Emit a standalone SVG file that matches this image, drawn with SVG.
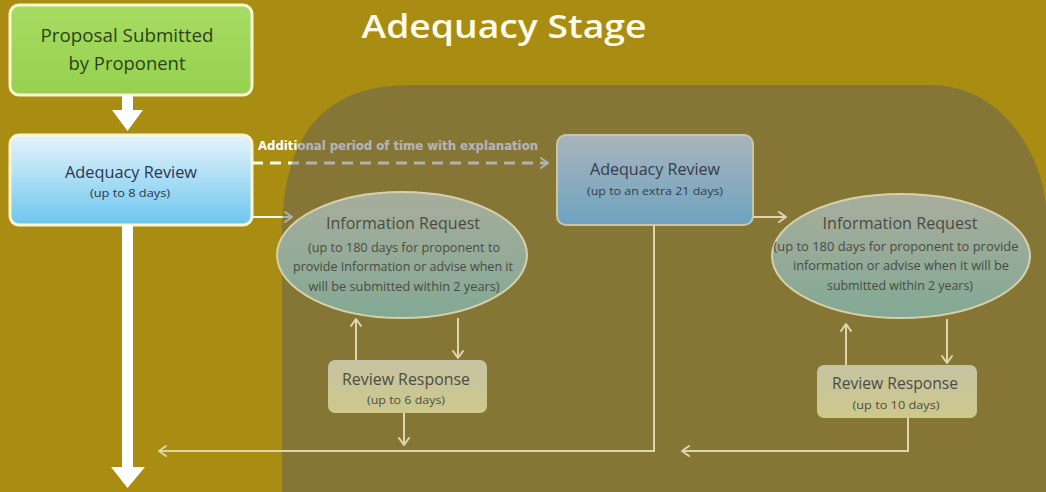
<svg xmlns="http://www.w3.org/2000/svg" width="1046" height="492" viewBox="0 0 1046 492">
<defs>
<style>
.t{font-family:"Open Sans","Liberation Sans",sans-serif;text-anchor:middle}
.thin{stroke:#ddd6ad;stroke-width:2;fill:none}
</style>
<linearGradient id="gGreen" x1="0" y1="0" x2="0" y2="1"><stop offset="0" stop-color="#a6dc62"/><stop offset="1" stop-color="#97d14f"/></linearGradient>
<linearGradient id="gBlue" x1="0" y1="0" x2="0" y2="1"><stop offset="0" stop-color="#e6f3fb"/><stop offset="1" stop-color="#6cc6ee"/></linearGradient>
<linearGradient id="gBlue2" x1="0" y1="0" x2="0" y2="1"><stop offset="0" stop-color="#a9b4bc"/><stop offset="1" stop-color="#6ea3c0"/></linearGradient>
<linearGradient id="gEll" x1="0" y1="0" x2="0" y2="1"><stop offset="0" stop-color="#a8ad9c"/><stop offset="1" stop-color="#82a994"/></linearGradient>
<linearGradient id="gResp" x1="0" y1="0" x2="0" y2="1"><stop offset="0" stop-color="#c6c3a2"/><stop offset="1" stop-color="#cdc88a"/></linearGradient>
<marker id="chev" viewBox="0 0 12 12" refX="10" refY="6" markerWidth="12" markerHeight="12" markerUnits="userSpaceOnUse" orient="auto"><path d="M3 1 L10 6 L3 11" fill="none" stroke="#ddd6ad" stroke-width="2" stroke-linecap="round" stroke-linejoin="round"/></marker>
<marker id="chevW" viewBox="0 0 12 12" refX="10" refY="6" markerWidth="12" markerHeight="12" markerUnits="userSpaceOnUse" orient="auto"><path d="M3 1 L10 6 L3 11" fill="none" stroke="#fbf8e6" stroke-width="2" stroke-linecap="round" stroke-linejoin="round"/></marker>
</defs>
<rect width="1046" height="492" fill="#a88d12"/>
<text class="t" x="504" y="38" font-size="32" font-weight="600" fill="#fffbea" textLength="285" lengthAdjust="spacingAndGlyphs">Adequacy Stage</text>

<g id="node-proposal">
<rect x="10" y="5" width="242" height="90" rx="9" fill="url(#gGreen)" stroke="#fbf6d2" stroke-width="3"/>
<text class="t" x="127" y="42" font-size="19" fill="#2a4416" textLength="173" lengthAdjust="spacingAndGlyphs">Proposal Submitted</text>
<text class="t" x="127" y="70" font-size="19" fill="#2a4416" textLength="117" lengthAdjust="spacingAndGlyphs">by Proponent</text>
</g>

<g id="node-adequacy1">
<rect x="10" y="135" width="242" height="90" rx="9" fill="url(#gBlue)" stroke="#fbf6d2" stroke-width="3"/>
<text class="t" x="131" y="178" font-size="16" fill="#2b3550" textLength="132" lengthAdjust="spacingAndGlyphs">Adequacy Review</text>
<text class="t" x="130" y="197" font-size="11.5" fill="#2b3550" textLength="80" lengthAdjust="spacingAndGlyphs">(up to 8 days)</text>
</g>

<g id="connectors-left">
<path d="M122 95 H133 V110 H143 L127.5 131 L112 110 H122 Z" fill="#ffffff"/>
<path d="M122 225 H133 V467 H145 L127.5 488 L111 467 H122 Z" fill="#ffffff"/>
<line x1="252" y1="163" x2="548" y2="163" stroke="#fbf8e6" stroke-width="3" stroke-dasharray="11,7" marker-end="url(#chevW)"/>
<line x1="252" y1="217" x2="292" y2="217" stroke="#fbf8e6" stroke-width="2" marker-end="url(#chevW)"/>
<text x="258" y="150" font-family="DejaVu Sans Condensed,Liberation Sans,sans-serif" font-weight="bold" font-size="11.5" fill="#ffffff" textLength="280" lengthAdjust="spacingAndGlyphs">Additional period of time with explanation</text>
</g>

<path id="overlay" d="M282 492 V235 C282 140 320 85 410 85 H930 C1000 85 1040 150 1046 205 V492 Z" fill="#5a5a64" fill-opacity="0.45"/>

<g id="node-info1">
<ellipse cx="402" cy="255" rx="125" ry="63" fill="url(#gEll)" stroke="#d6d1a8" stroke-width="2"/>
<text class="t" x="403" y="229" font-size="16" fill="#4a4a42" textLength="154" lengthAdjust="spacingAndGlyphs">Information Request</text>
<text class="t" x="404" y="252" font-size="12" fill="#4a4a42" textLength="192" lengthAdjust="spacingAndGlyphs">(up to 180 days for proponent to</text>
<text class="t" x="403" y="271" font-size="12" fill="#4a4a42" textLength="220" lengthAdjust="spacingAndGlyphs">provide Information or advise when it</text>
<text class="t" x="404" y="291" font-size="12" fill="#4a4a42" textLength="191" lengthAdjust="spacingAndGlyphs">will be submitted within 2 years)</text>
</g>

<g id="node-resp1">
<rect x="328" y="360" width="159" height="53" rx="7" fill="url(#gResp)"/>
<text class="t" x="406" y="385" font-size="15.5" fill="#4c4c44" textLength="128" lengthAdjust="spacingAndGlyphs">Review Response</text>
<text class="t" x="406" y="404" font-size="11.5" fill="#4c4c44" textLength="78" lengthAdjust="spacingAndGlyphs">(up to 6 days)</text>
</g>

<g id="node-adequacy2">
<rect x="557" y="135" width="196" height="90" rx="9" fill="url(#gBlue2)" stroke="#c9c6a8" stroke-width="2"/>
<text class="t" x="655" y="175" font-size="16" fill="#343c4e" textLength="130" lengthAdjust="spacingAndGlyphs">Adequacy Review</text>
<text class="t" x="655" y="195" font-size="11.5" fill="#343c4e" textLength="136" lengthAdjust="spacingAndGlyphs">(up to an extra 21 days)</text>
</g>

<g id="node-info2">
<ellipse cx="901" cy="256" rx="129" ry="62" fill="url(#gEll)" stroke="#d6d1a8" stroke-width="2"/>
<text class="t" x="900" y="229" font-size="16" fill="#4a4a42" textLength="155" lengthAdjust="spacingAndGlyphs">Information Request</text>
<text class="t" x="896" y="251" font-size="12" fill="#4a4a42" textLength="245" lengthAdjust="spacingAndGlyphs">(up to 180 days for proponent to provide</text>
<text class="t" x="901" y="270" font-size="12" fill="#4a4a42" textLength="216" lengthAdjust="spacingAndGlyphs">information or advise when it will be</text>
<text class="t" x="900" y="290" font-size="12" fill="#4a4a42" textLength="146" lengthAdjust="spacingAndGlyphs">submitted within 2 years)</text>
</g>

<g id="node-resp2">
<rect x="817" y="365" width="160" height="53" rx="7" fill="url(#gResp)"/>
<text class="t" x="895" y="389" font-size="15.5" fill="#4c4c44" textLength="126" lengthAdjust="spacingAndGlyphs">Review Response</text>
<text class="t" x="896" y="409" font-size="11.5" fill="#4c4c44" textLength="87" lengthAdjust="spacingAndGlyphs">(up to 10 days)</text>
</g>

<g id="connectors">
<line class="thin" x1="356" y1="360" x2="356" y2="319" marker-end="url(#chev)"/>
<line class="thin" x1="458" y1="318" x2="458" y2="358" marker-end="url(#chev)"/>
<line class="thin" x1="404" y1="413" x2="404" y2="445" marker-end="url(#chev)"/>
<polyline class="thin" points="654,225 654,451 159,451" marker-end="url(#chev)"/>
<line class="thin" x1="753" y1="217" x2="786" y2="217" marker-end="url(#chev)"/>
<line class="thin" x1="846" y1="365" x2="846" y2="324" marker-end="url(#chev)"/>
<line class="thin" x1="947" y1="319" x2="947" y2="363" marker-end="url(#chev)"/>
<polyline class="thin" points="908,418 908,451 682,451" marker-end="url(#chev)"/>
</g>
</svg>
